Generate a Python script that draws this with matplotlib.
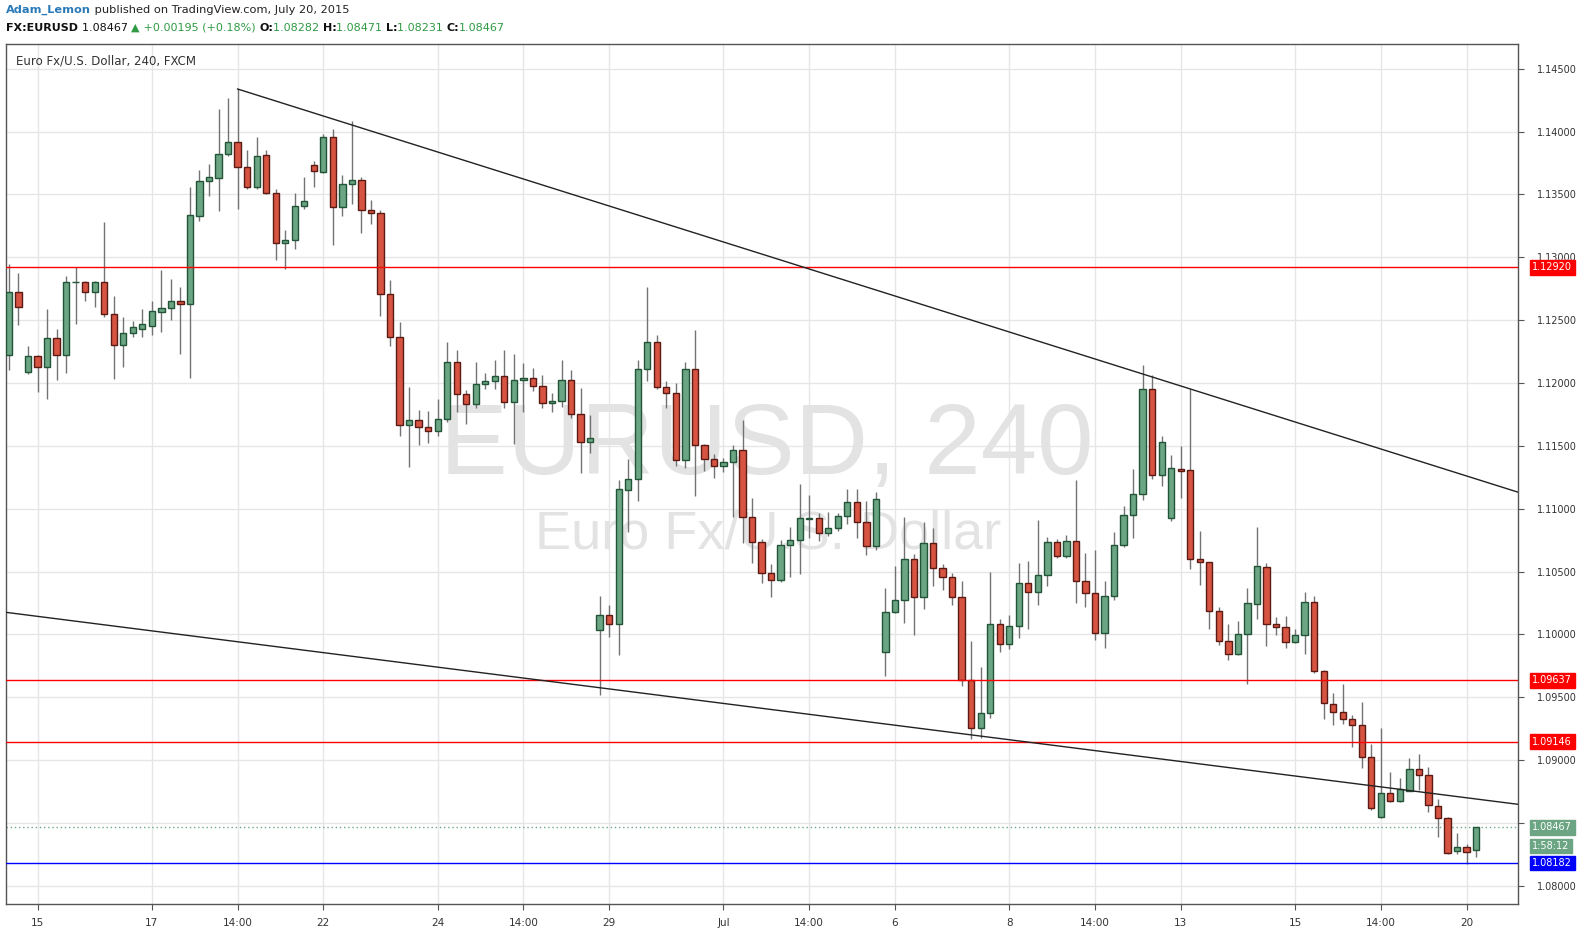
import numpy as np
import matplotlib.pyplot as plt
from matplotlib.transforms import blended_transform_factory

# EURUSD 4h candles (FXCM), Jun 12 - Jul 20 2015
opens = [
    1.12223, 1.12722, 1.12085, 1.12213, 1.12125, 1.12356, 1.12223, 1.12801, 1.12801, 1.12722,
    1.12801, 1.12547, 1.12302, 1.12396, 1.12430, 1.12454, 1.12565, 1.12597, 1.12652, 1.12626,
    1.13331, 1.13605, 1.13633, 1.13819, 1.13915, 1.13716, 1.13557, 1.13811, 1.13509, 1.13111,
    1.13135, 1.13406, 1.13732, 1.13681, 1.13955, 1.13398, 1.13581, 1.13613, 1.13374, 1.13350,
    1.12706, 1.12364, 1.11664, 1.11703, 1.11648, 1.11616, 1.11711, 1.12165, 1.11910, 1.11831,
    1.11990, 1.12014, 1.12053, 1.11853, 1.12022, 1.12038, 1.11979, 1.11839, 1.11857, 1.12022,
    1.11756, 1.11533, 1.10033, 1.10152, 1.10081, 1.11149, 1.11233, 1.12109, 1.12324, 1.11971,
    1.11918, 1.11385, 1.12109, 1.11505, 1.11393, 1.11338, 1.11369, 1.11465, 1.10938, 1.10733,
    1.10491, 1.10431, 1.10709, 1.10749, 1.10921, 1.10929, 1.10805, 1.10844, 1.10940, 1.11051,
    1.10892, 1.10701, 1.09863, 1.10176, 1.10272, 1.10598, 1.10300, 1.10725, 1.10531, 1.10455,
    1.10300, 1.09640, 1.09258, 1.09373, 1.10081, 1.09922, 1.10067, 1.10407, 1.10335, 1.10471,
    1.10733, 1.10626, 1.10741, 1.10423, 1.10327, 1.10009, 1.10304, 1.10709, 1.10948, 1.11115,
    1.11950, 1.11266, 1.10924, 1.11314, 1.11306, 1.10598, 1.10574, 1.10184, 1.09946, 1.09842,
    1.10001, 1.10245, 1.10537, 1.10081, 1.10057, 1.09938, 1.09993, 1.10256, 1.09710, 1.09450,
    1.09386, 1.09325, 1.09278, 1.09023, 1.08546, 1.08737, 1.08673, 1.08757, 1.08928, 1.08880,
    1.08633, 1.08538, 1.08275, 1.08307, 1.08282]
highs = [
    1.12947, 1.12875, 1.12294, 1.12223, 1.12589, 1.12430, 1.12849, 1.12920, 1.12809, 1.12814,
    1.13281, 1.12692, 1.12525, 1.12493, 1.12589, 1.12652, 1.12899, 1.12827, 1.12764, 1.13559,
    1.13694, 1.13742, 1.14180, 1.14267, 1.14339, 1.13853, 1.13957, 1.13853, 1.13541, 1.13217,
    1.13509, 1.13639, 1.13766, 1.13981, 1.14021, 1.13655, 1.14084, 1.13639, 1.13456, 1.13376,
    1.12819, 1.12485, 1.11968, 1.11785, 1.11777, 1.11873, 1.12326, 1.12263, 1.11942, 1.12167,
    1.12077, 1.12183, 1.12263, 1.12231, 1.12157, 1.12120, 1.12064, 1.11918, 1.12183, 1.12104,
    1.11960, 1.11743, 1.10306, 1.10232, 1.11229, 1.11396, 1.12183, 1.12764, 1.12382, 1.12016,
    1.11998, 1.12167, 1.12422, 1.11515, 1.11435, 1.11401, 1.11505, 1.11706, 1.11083, 1.10759,
    1.10560, 1.10751, 1.10855, 1.11197, 1.11109, 1.10966, 1.10974, 1.10966, 1.11157, 1.11157,
    1.11059, 1.11133, 1.10370, 1.10545, 1.10934, 1.10640, 1.10895, 1.10847, 1.10560, 1.10487,
    1.10423, 1.09948, 1.09739, 1.10499, 1.10123, 1.10155, 1.10568, 1.10584, 1.10910, 1.10775,
    1.10759, 1.10791, 1.11229, 1.10648, 1.10672, 1.10425, 1.10815, 1.11022, 1.11316, 1.12143,
    1.12064, 1.11576, 1.11427, 1.11499, 1.11950, 1.10823, 1.10576, 1.10218, 1.10083, 1.10105,
    1.10370, 1.10855, 1.10568, 1.10139, 1.10147, 1.10044, 1.10335, 1.10306, 1.09720, 1.09532,
    1.09604, 1.09357, 1.09460, 1.09129, 1.09256, 1.08906, 1.08858, 1.09017, 1.09049, 1.08943,
    1.08689, 1.08546, 1.08421, 1.08333, 1.08471]
lows = [
    1.12104, 1.12464, 1.12074, 1.11931, 1.11873, 1.12024, 1.12082, 1.12472, 1.12655, 1.12607,
    1.12528, 1.12034, 1.12130, 1.12366, 1.12366, 1.12382, 1.12406, 1.12501, 1.12231, 1.12040,
    1.13291, 1.13490, 1.13371, 1.13803, 1.13387, 1.13541, 1.13547, 1.13500, 1.12981, 1.12909,
    1.13068, 1.13387, 1.13562, 1.13673, 1.13100, 1.13329, 1.13426, 1.13196, 1.13267, 1.12536,
    1.12297, 1.11581, 1.11334, 1.11509, 1.11525, 1.11581, 1.11692, 1.11772, 1.11672, 1.11799,
    1.11955, 1.11950, 1.11805, 1.11517, 1.11772, 1.11939, 1.11804, 1.11772, 1.11812, 1.11722,
    1.11287, 1.11446, 1.09521, 1.09977, 1.09834, 1.10817, 1.11064, 1.12018, 1.11955, 1.11804,
    1.11342, 1.11326, 1.11104, 1.11303, 1.11247, 1.11295, 1.10937, 1.10730, 1.10571, 1.10412,
    1.10300, 1.10420, 1.10457, 1.10483, 1.10767, 1.10746, 1.10786, 1.10825, 1.10881, 1.10770,
    1.10634, 1.10672, 1.09672, 1.10171, 1.10094, 1.09998, 1.10205, 1.10388, 1.10356, 1.10237,
    1.09593, 1.09169, 1.09179, 1.09336, 1.09863, 1.09882, 1.09974, 1.10046, 1.10237, 1.10388,
    1.10608, 1.10611, 1.10253, 1.10221, 1.09956, 1.09895, 1.10277, 1.10696, 1.10770, 1.11072,
    1.11239, 1.11183, 1.10905, 1.11088, 1.10523, 1.10396, 1.10046, 1.09919, 1.09797, 1.09837,
    1.09606, 1.10123, 1.09911, 1.09996, 1.09892, 1.09930, 1.09847, 1.09696, 1.09330, 1.09282,
    1.09290, 1.09107, 1.08940, 1.08604, 1.08540, 1.08667, 1.08667, 1.08755, 1.08763, 1.08590,
    1.08391, 1.08254, 1.08256, 1.08175, 1.08231]
closes = [
    1.12722, 1.12602, 1.12213, 1.12125, 1.12356, 1.12223, 1.12801, 1.12805, 1.12722, 1.12801,
    1.12547, 1.12302, 1.12396, 1.12448, 1.12470, 1.12573, 1.12597, 1.12652, 1.12629, 1.13334,
    1.13605, 1.13636, 1.13819, 1.13915, 1.13716, 1.13557, 1.13810, 1.13509, 1.13111, 1.13135,
    1.13406, 1.13445, 1.13684, 1.13955, 1.13398, 1.13581, 1.13613, 1.13374, 1.13350, 1.12706,
    1.12364, 1.11664, 1.11703, 1.11648, 1.11616, 1.11711, 1.12165, 1.11910, 1.11831, 1.11990,
    1.12014, 1.12053, 1.11853, 1.12022, 1.12038, 1.11979, 1.11839, 1.11857, 1.12022, 1.11756,
    1.11533, 1.11560, 1.10152, 1.10081, 1.11155, 1.11233, 1.12109, 1.12324, 1.11971, 1.11918,
    1.11385, 1.12109, 1.11505, 1.11393, 1.11338, 1.11369, 1.11465, 1.10938, 1.10733, 1.10491,
    1.10431, 1.10709, 1.10749, 1.10924, 1.10929, 1.10805, 1.10844, 1.10940, 1.11051, 1.10892,
    1.10701, 1.11075, 1.10176, 1.10272, 1.10598, 1.10300, 1.10725, 1.10531, 1.10455, 1.10300,
    1.09640, 1.09258, 1.09373, 1.10081, 1.09922, 1.10067, 1.10407, 1.10335, 1.10471, 1.10733,
    1.10626, 1.10741, 1.10423, 1.10327, 1.10009, 1.10304, 1.10709, 1.10948, 1.11115, 1.11950,
    1.11266, 1.11529, 1.11322, 1.11298, 1.10598, 1.10574, 1.10184, 1.09946, 1.09842, 1.10001,
    1.10248, 1.10545, 1.10081, 1.10057, 1.09938, 1.09993, 1.10256, 1.09710, 1.09453, 1.09386,
    1.09325, 1.09278, 1.09023, 1.08617, 1.08737, 1.08673, 1.08768, 1.08928, 1.08880, 1.08641,
    1.08538, 1.08259, 1.08307, 1.08267, 1.08467]

# time axis labels (candle index of each vertical gridline)
date_idx = [3, 15, 24, 33, 45, 54, 63, 75, 84, 93, 105, 114, 123, 135, 144, 153]
date_labels = ["15", "17", "14:00", "22", "24", "14:00", "29", "Jul", "14:00",
               "6", "8", "14:00", "13", "15", "14:00", "20"]
price_ticks = [1.080, 1.085, 1.090, 1.095, 1.100, 1.105, 1.110, 1.115,
               1.120, 1.125, 1.130, 1.135, 1.140, 1.145]

# drawn levels and trend lines
red_levels = [1.12920, 1.09637, 1.09146]
blue_level = 1.08182
last_price = 1.08467
upper_trend_x = [24, 158.4]
upper_trend_y = [1.14339, 1.11132]
lower_trend_x = [-0.31, 158.4]
lower_trend_y = [1.10176, 1.08649]

UP, DOWN = "#6ba583", "#d75442"
UP_EDGE, DOWN_EDGE = "#225437", "#5b1a13"

W, H = 1587, 935
fig = plt.figure(figsize=(W / 100, H / 100), dpi=100)
fig.patch.set_facecolor("white")
ax = fig.add_axes([6 / W, 1 - 904 / H, 1512 / W, 860 / H])

o = np.array(opens)
c = np.array(closes)
x = np.arange(len(o))
up = c >= o
bottom = np.minimum(o, c)
height = np.maximum(np.abs(c - o), 0.00002)

ax.vlines(x, lows, highs, color="#737375", lw=1, zorder=3)
ax.bar(x[up], height[up], bottom=bottom[up], width=0.66, color=UP,
       edgecolor=UP_EDGE, linewidth=1, zorder=4)
ax.bar(x[~up], height[~up], bottom=bottom[~up], width=0.66, color=DOWN,
       edgecolor=DOWN_EDGE, linewidth=1, zorder=4)

# grid
for p in price_ticks:
    ax.axhline(p, color="#e6e6e6", lw=1, zorder=0)
for i in date_idx:
    ax.axvline(i, color="#e6e6e6", lw=1, zorder=0)

# levels and trend lines
for lv in red_levels:
    ax.axhline(lv, color="#ff0000", lw=1, zorder=5)
ax.axhline(blue_level, color="#0000ff", lw=1, zorder=5)
ax.axhline(last_price, color=UP, lw=1, ls=(0, (1, 2)), zorder=2)
ax.plot(upper_trend_x, upper_trend_y, color="#222222", lw=1, zorder=5)
ax.plot(lower_trend_x, lower_trend_y, color="#222222", lw=1, zorder=5)

ax.set_xlim(-0.31, 158.4)
ax.set_ylim(1.07856, 1.14697)

# watermark
ax.text(0.503, 0.53, "EURUSD, 240", transform=ax.transAxes, ha="center", va="center",
        fontsize=73, color="#e3e3e3", family="Liberation Sans", zorder=1)
ax.text(0.504, 0.43, "Euro Fx/U.S. Dollar", transform=ax.transAxes, ha="center",
        va="center", fontsize=39, color="#e3e3e3", family="Liberation Sans", zorder=1)
ax.text(0.0066, 0.980, "Euro Fx/U.S. Dollar, 240, FXCM", transform=ax.transAxes,
        ha="left", va="center", fontsize=8.5, color="#333333", family="DejaVu Sans")

# axes (the 1.08500 label sits under the last-price tag, as on the original)
ax.yaxis.tick_right()
ax.set_yticks(price_ticks)
ax.set_yticklabels(["" if abs(p - last_price) < 0.0005 else f"{p:.5f}"
                    for p in price_ticks])
ax.set_xticks(date_idx)
ax.set_xticklabels(date_labels)
ax.tick_params(axis="y", length=4, pad=10, labelsize=7, colors="#555555",
               labelcolor="#333333")
ax.tick_params(axis="x", length=4, pad=6, labelsize=7.5, colors="#555555",
               labelcolor="#333333")
for s in ax.spines.values():
    s.set_color("#555555")
    s.set_linewidth(1)

# price tags on the right axis
tr = blended_transform_factory(ax.transAxes, ax.transData)
tags = [(lv, f"{lv:.5f}", "#ff0000") for lv in red_levels]
tags += [(last_price, f"{last_price:.5f}", UP), (blue_level, f"{blue_level:.5f}", "#0000ff")]
for lv, lab, col in tags:
    ax.text(1.0095, lv, lab, transform=tr, ha="left", va="center", fontsize=7,
            color="white", clip_on=False,
            bbox=dict(boxstyle="square,pad=0.25", fc=col, ec=col))
ax.annotate("1:58:12", xy=(1.0095, last_price), xycoords=tr, xytext=(0, -13.5),
            textcoords="offset points", ha="left", va="center", fontsize=7,
            color="white", annotation_clip=False,
            bbox=dict(boxstyle="square,pad=0.2", fc=UP, ec=UP))

# header rows
renderer = fig.canvas.get_renderer()


def write_row(parts, x0, y0, size):
    xp = x0
    for s, col, wt in parts:
        t = fig.text(xp / W, 1 - y0 / H, s, color=col, fontsize=size, fontweight=wt,
                     ha="left", va="center", family="DejaVu Sans")
        xp += t.get_window_extent(renderer).width


G = "#2f9a43"
write_row([("Adam_Lemon", "#2a7ab8", "bold"),
           (" published on TradingView.com, July 20, 2015", "#222222", "normal")],
          6, 10, 8.2)
write_row([("FX:EURUSD ", "#111111", "bold"), ("1.08467 ", "#111111", "normal"),
           ("\u25b2", G, "normal"), (" +0.00195 (+0.18%) ", G, "normal"),
           ("O:", "#111111", "bold"), ("1.08282 ", G, "normal"),
           ("H:", "#111111", "bold"), ("1.08471 ", G, "normal"),
           ("L:", "#111111", "bold"), ("1.08231 ", G, "normal"),
           ("C:", "#111111", "bold"), ("1.08467", G, "normal")],
          6, 28, 8.0)

fig.savefig("out.png", dpi=100)
